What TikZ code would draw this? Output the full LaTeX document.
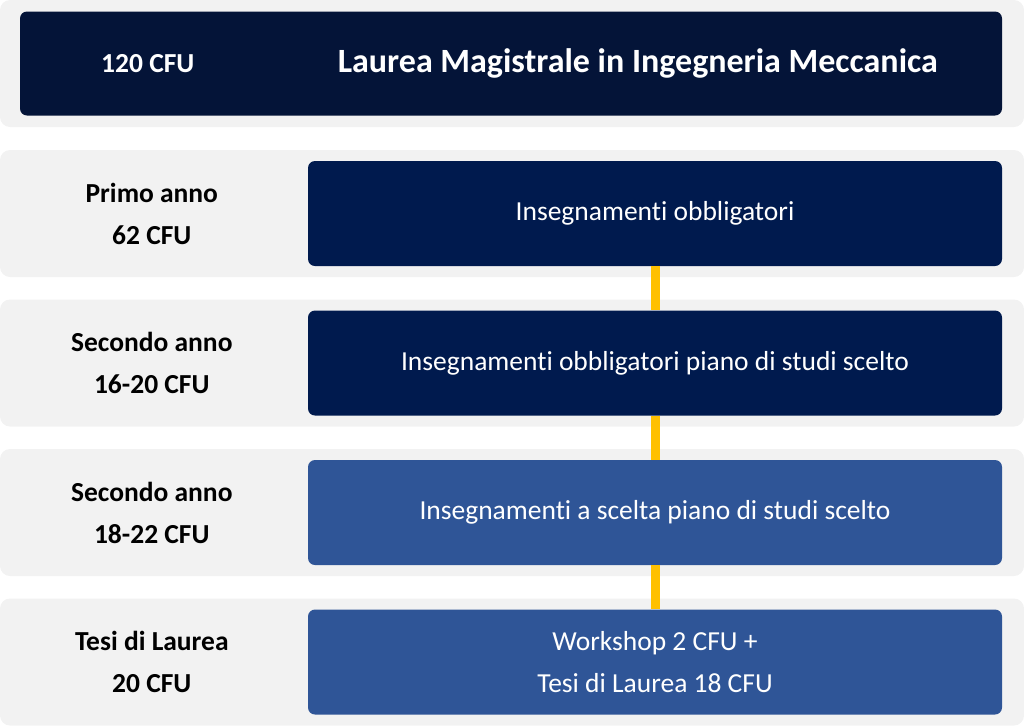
\documentclass[tikz,border=0pt]{standalone}
\usepackage{fontspec}
\setmainfont{Carlito}[Ligatures=NoCommon]
\usetikzlibrary{positioning}
\definecolor{bandgray}{HTML}{F2F2F2}
\definecolor{navytop}{HTML}{041438}
\definecolor{navy}{HTML}{001A4E}
\definecolor{midblue}{HTML}{2F5597}
\definecolor{gold}{HTML}{FFC000}
\tikzstyle{band} = [fill=bandgray, rounded corners=10pt, minimum width=1024pt,
minimum height=127pt, inner sep=0pt]
\tikzstyle{block} = [fill=navy, rounded corners=7pt, text=white, align=center,
minimum width=694pt, minimum height=105pt, inner sep=0pt,
font=\fontsize{27.5}{42}\selectfont]
\tikzstyle{label} = [align=center, font=\fontsize{27.5}{42}\selectfont\bfseries]
\tikzstyle{link} = [draw=gold, line width=9pt]

\begin{document}
\begin{tikzpicture}[node distance=149.5pt]
	\useasboundingbox (0,0) rectangle (1024pt,-726pt);
	% grey bands, one per row
	\node [band] (band0) at (512pt,-63.5pt) {};
	\node [band, below of=band0, yshift=-0.5pt] (band1) {};
	\node [band, below of=band1] (band2) {};
	\node [band, below of=band2] (band3) {};
	\node [band, below of=band3] (band4) {};
	% heading
	\node [block, fill=navytop, minimum width=982pt, minimum height=104pt]
		(head) at ([xshift=-1pt]band0.center) {};
	\node [label, text=white] (total) at ([xshift=148pt]band0.west) {120 CFU};
	\node [font=\fontsize{34}{40}\selectfont\bfseries, text=white]
		(title) at ([xshift=638pt]band0.west) {Laurea Magistrale in Ingegneria Meccanica};
	% the blocks on the right
	\node [block] (core) at ([xshift=143pt]band1.center) {Insegnamenti obbligatori};
	\node [block] (plan) at ([xshift=143pt]band2.center) {Insegnamenti obbligatori piano di studi scelto};
	\node [block, fill=midblue] (elective) at ([xshift=143pt]band3.center) {Insegnamenti a scelta piano di studi scelto};
	\node [block, fill=midblue] (thesis) at ([xshift=143pt]band4.center) {Workshop 2 CFU +\\Tesi di Laurea 18 CFU};
	% the labels on the left
	\node [label] (first) at ([xshift=152pt]band1.west) {Primo anno\\62 CFU};
	\node [label] (second) at ([xshift=152pt]band2.west) {Secondo anno\\16-20 CFU};
	\node [label] (secondb) at ([xshift=152pt]band3.west) {Secondo anno\\18-22 CFU};
	\node [label] (final) at ([xshift=152pt]band4.west) {Tesi di Laurea\\20 CFU};
	% yellow links between the blocks
	\draw [link] (core) -- (plan);
	\draw [link] (plan) -- (elective);
	\draw [link] (elective) -- (thesis);
\end{tikzpicture}
\end{document}
